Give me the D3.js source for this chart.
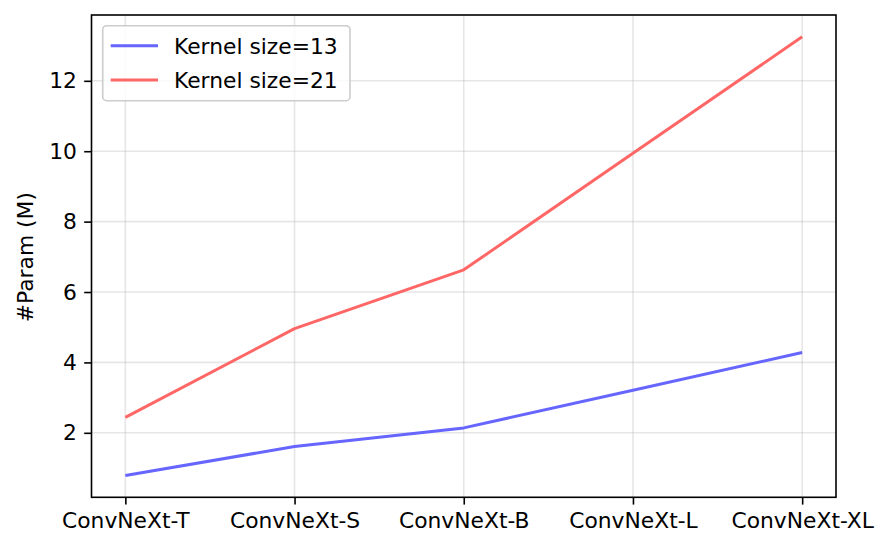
<!DOCTYPE html>
<html><head><meta charset="utf-8">
<script src="https://cdn.jsdelivr.net/npm/d3@7"></script>
<style>body{margin:0;background:#fff}svg{display:block}svg text{font-family:"DejaVu Sans",sans-serif;fill:#000;font-size:21.8px}</style>
</head><body><svg id="c" width="890" height="553"></svg>
<script>
const categories = ["ConvNeXt-T","ConvNeXt-S","ConvNeXt-B","ConvNeXt-L","ConvNeXt-XL"];
const k13 = [0.79, 1.61, 2.14, 3.21, 4.28];
const k21 = [2.44, 4.96, 6.63, 9.94, 13.25];
const seriesNames = ["Kernel size=13","Kernel size=21"];
const yTicks = [2,4,6,8,10,12];

const svg = d3.select("#c");
const L=91.5, R=836, T=15, B=497.3;
const x = d3.scaleLinear().domain([-0.2, 4.2]).range([L,R]);
const y = d3.scaleLinear().domain([0.168, 13.87]).range([B,T]);

// grid
const g = svg.append("g");
categories.forEach((c,i)=>g.append("line").attr("x1",x(i)).attr("x2",x(i)).attr("y1",T).attr("y2",B).attr("stroke","#b0b0b0").attr("stroke-opacity",0.32).attr("stroke-width",1.6));
yTicks.forEach(t=>g.append("line").attr("x1",L).attr("x2",R).attr("y1",y(t)).attr("y2",y(t)).attr("stroke","#b0b0b0").attr("stroke-opacity",0.32).attr("stroke-width",1.6));

const line = d3.line().x((d,i)=>x(i)).y(d=>y(d));
const colors = ["rgb(102,102,255)","rgb(255,102,102)"];
[k13,k21].forEach((s,j)=>svg.append("path").attr("d",line(s)).attr("fill","none").attr("stroke",colors[j]).attr("stroke-width",3).attr("stroke-linejoin","round").attr("stroke-linecap","butt"));

// axes
const xa = svg.append("g").attr("transform",`translate(0,${B})`)
  .call(d3.axisBottom(x).tickValues(d3.range(categories.length)).tickFormat(i=>categories[i]).tickSize(7.3).tickPadding(7.3));
const ya = svg.append("g").attr("transform",`translate(${L},0)`)
  .call(d3.axisLeft(y).tickValues(yTicks).tickSize(7.3).tickPadding(7.3));
[xa,ya].forEach(a=>{a.attr("font-size",null).attr("font-family",null);a.select(".domain").remove();a.selectAll("line").attr("stroke","#000").attr("stroke-width",1.6);});
xa.selectAll("text").attr("dy","0.76em");

svg.append("rect").attr("x",L).attr("y",T).attr("width",R-L).attr("height",B-T).attr("fill","none").attr("stroke","#000").attr("stroke-width",1.6);

svg.append("text").attr("transform",`translate(33,${(T+B)/2+1}) rotate(-90)`).attr("text-anchor","middle").text("#Param (M)");

// legend
const lg = svg.append("g");
lg.append("rect").attr("x",102.7).attr("y",25.7).attr("width",247.3).attr("height",75).attr("rx",4).attr("fill","#fff").attr("fill-opacity",0.8).attr("stroke","#cccccc").attr("stroke-width",1.6);
seriesNames.forEach((n,j)=>{
  const yy = 45.7 + j*34.3;
  lg.append("line").attr("x1",110.7).attr("x2",158).attr("y1",yy).attr("y2",yy).attr("stroke",colors[j]).attr("stroke-width",3);
  lg.append("text").attr("x",174).attr("y",yy).attr("dy","0.36em").text(n);
});
</script></body></html>
